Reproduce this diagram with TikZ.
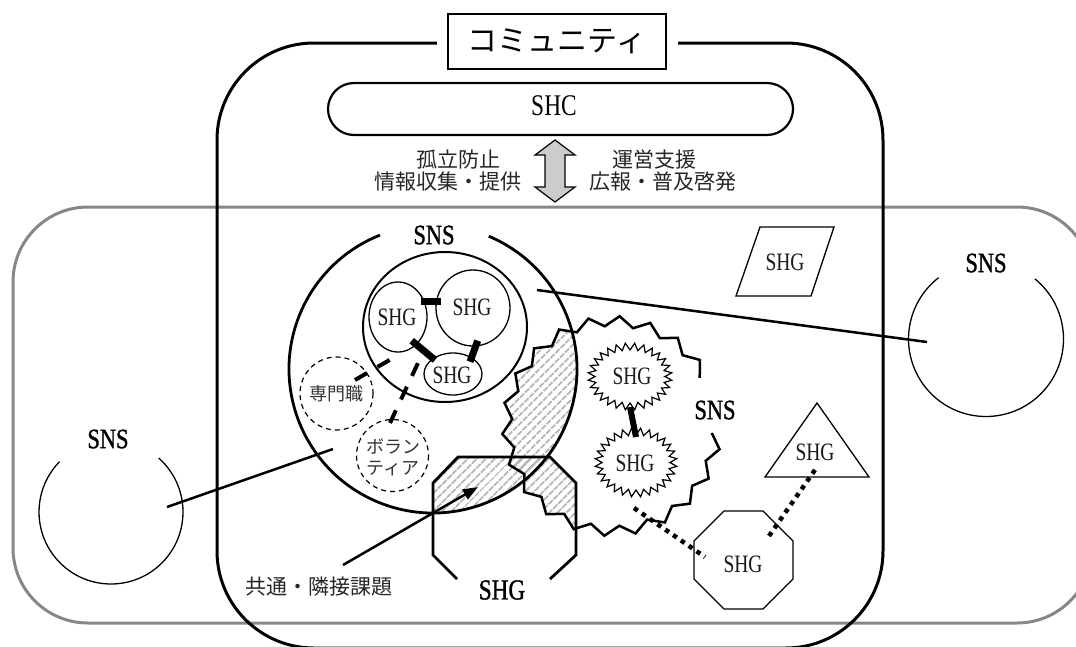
\documentclass[tikz,border=0pt]{standalone}
\usepackage{fontspec}
\newfontfamily\jpf{Noto Sans CJK JP}
\newfontfamily\latf[FakeStretch=0.78]{Liberation Serif}
\newfontfamily\latbf[FakeStretch=0.8,FakeBold=1.2]{Liberation Serif}
\usetikzlibrary{patterns.meta,arrows.meta}
\begin{document}
\begin{tikzpicture}[x=1pt,y=-1pt,
  thickln/.style={line width=2.8pt},
  thinln/.style={line width=1.3pt},
  hatch/.style={pattern={Lines[angle=45,distance=6.5pt,line width=2pt]},pattern color=black!30},
  shg/.style={font=\latf\fontsize{25}{25}\selectfont, text=black!90, inner sep=0pt},
  snsl/.style={font=\latbf\fontsize{28}{28}\selectfont, inner sep=0pt},
  jtxt/.style={font=\jpf\fontsize{21}{25}\selectfont, text=black!85, inner sep=0pt},
  jsmall/.style={font=\jpf\fontsize{18}{21}\selectfont, text=black!80, inner sep=0pt, align=center},
  bar/.style={line width=7pt},
  dashln/.style={line width=4pt, dash pattern=on 14pt off 12pt},
  dotln/.style={line width=4.5pt, dash pattern=on 4.5pt off 5pt},
  dcirc/.style={line width=1.2pt, dash pattern=on 5pt off 4pt},
]
\useasboundingbox (0,0) rectangle (1076,646);
\clip (0,0) rectangle (1076,646);

% outer gray frame
\draw[line width=3pt, draw=black!47, rounded corners=75pt] (13,207) rectangle (1092,623);
% community frame
\draw[line width=3pt, rounded corners=97pt] (217,43) rectangle (883,648);
\fill[white] (437,36) rectangle (678,50);
\node[draw, line width=2pt, fill=white, minimum width=218pt, minimum height=55pt, inner sep=0pt,
      font=\jpf\fontsize{30}{30}\selectfont] (title) at (557,41.5) {コミュニティ};

% SHC
\node[draw, line width=2.2pt, rounded corners=26pt, minimum width=465pt, minimum height=52pt, inner sep=0pt] (shc) at (560.5,109) {};
\node[font=\latf\fontsize{30}{30}\selectfont, inner sep=0pt] (shct) at (554,106) {SHC};

% double arrow
\coordinate (da) at (555,171);
\draw[line width=1.2pt, fill=black!20] (da) ++(0,-31) -- ++(20,15) -- ++(-10,0) -- ++(0,32) -- ++(10,0)
   -- ++(-20,15) -- ++(-20,-15) -- ++(10,0) -- ++(0,-32) -- ++(-10,0) -- cycle;
\node[jtxt] (t1) at (458,160) {孤立防止};
\node[jtxt] (t2) at (448,182) {情報収集・提供};
\node[jtxt] (t3) at (654,160) {運営支援};
\node[jtxt] (t4) at (663,182) {広報・普及啓発};

% hatched overlaps
\begin{scope}
  \clip (433,369) circle[radius=144];
  \path[hatch] plot[variable=\k,domain=0:44,samples=45]
    ({612+(105+5*(2*mod(round(\k),2)-1))*cos(4+\k*8.181818)},{426+(105+5*(2*mod(round(\k),2)-1))*sin(4+\k*8.181818)}) -- cycle;
\end{scope}
\begin{scope}
  \clip (458,457) -- (550,457) -- (576,483) -- (576,555) -- (550,581) -- (458,581) -- (433,555) -- (433,483) -- cycle;
  \path[hatch] (433,369) circle[radius=144];
  \path[hatch] plot[variable=\k,domain=0:44,samples=45]
    ({612+(105+5*(2*mod(round(\k),2)-1))*cos(4+\k*8.181818)},{426+(105+5*(2*mod(round(\k),2)-1))*sin(4+\k*8.181818)}) -- cycle;
\end{scope}

% big SNS circle
\coordinate (bigc) at (433,369);
\draw[thickln] ([shift={(292.8:144)}]bigc) arc[start angle=292.8,end angle=608.4,radius=144];
\node[snsl] (sns1) at (434,235) {SNS};
% inner circle and SHGs
\draw[line width=2pt] (445,327) ellipse[x radius=82, y radius=75];
\draw[thinln] (398,317) ellipse[x radius=29, y radius=35];
\draw[thinln] (473,308) ellipse[x radius=37, y radius=38];
\draw[thinln] (453,374) ellipse[x radius=29, y radius=21];
\node[shg] (g1) at (397,317) {SHG};
\node[shg] (g2) at (472,307) {SHG};
\node[shg] (g3) at (452,375) {SHG};
\coordinate (b1a) at (421,301); \coordinate (b1b) at (441,301);
\coordinate (b2a) at (411.7,340.7); \coordinate (b2b) at (435,360);
\coordinate (b3a) at (477.7,340.7); \coordinate (b3b) at (470,361.7);
\draw[bar] (b1a) -- (b1b);
\draw[bar] (b2a) -- (b2b);
\draw[bar] (b3a) -- (b3b);
% professionals / volunteers
\draw[dcirc] (336.5,393.5) circle[radius=36.5];
\node[jsmall] (pro) at (336.5,394) {専門職};
\draw[dcirc] (392.5,455.5) circle[radius=36];
\node[jsmall] (vol) at (393,457) {ボラン\\ティア};
\coordinate (d1a) at (355,380); \coordinate (d1b) at (393,358);
\coordinate (d2a) at (390,423); \coordinate (d2b) at (418,363);
\draw[dashln] (d1a) -- (d1b);
\draw[dashln] (d2a) -- (d2b);

% zigzag SNS
\draw[line width=2.5pt] plot[variable=\k,domain=0:40,samples=41]
    ({612+(105+5*(2*mod(round(\k),2)-1))*cos(4+\k*8.181818)},{426+(105+5*(2*mod(round(\k),2)-1))*sin(4+\k*8.181818)});
\node[snsl] (sns2) at (715,410) {SNS};
\draw[line width=1.2pt] plot[variable=\k,domain=0:56,samples=57]
    ({630+(38.5+3.5*(2*mod(round(\k),2)-1))*cos(\k*6.428571)},{376.5+(30+3.5*(2*mod(round(\k),2)-1))*sin(\k*6.428571)}) -- cycle;
\draw[line width=1.2pt] plot[variable=\k,domain=0:56,samples=57]
    ({636+(37.5+3.5*(2*mod(round(\k),2)-1))*cos(\k*6.428571)},{462.5+(31+3.5*(2*mod(round(\k),2)-1))*sin(\k*6.428571)}) -- cycle;
\node[shg] (z1) at (632,376) {SHG};
\node[shg] (z2) at (635,463) {SHG};
\coordinate (zb1) at (630,407); \coordinate (zb2) at (636,437);
\draw[line width=6pt] (zb1) -- (zb2);

% bottom octagon SHG
\draw[thickln] (457,579) -- (433,555) -- (433,483) -- (458,457) -- (550,457) -- (576,483) -- (576,555) -- (550,579);
\node[font=\latbf\fontsize{29}{29}\selectfont, inner sep=0pt] (shgb) at (502,590) {SHG};

% links to outer SNS circles
\coordinate (cr1) at (537,290); \coordinate (cr2) at (927,342);
\coordinate (cl1) at (333,449); \coordinate (cl2) at (167,507);
\draw[line width=2.5pt] (cr1) -- (cr2);
\draw[line width=2.5pt] (cl1) -- (cl2);
\coordinate (rs) at (986,339);
\draw[thinln] ([shift={(309.2:77.5)}]rs) arc[start angle=309.2,end angle=592.3,radius=77.5];
\node[snsl] (sns3) at (986,263) {SNS};
\coordinate (ls) at (111,512);
\draw[thinln] ([shift={(311.6:72)}]ls) arc[start angle=311.6,end angle=584.4,radius=72];
\node[snsl] (sns4) at (108,439) {SNS};

% other SHGs
\draw[thinln] (760,227) -- (834,227) -- (811,296) -- (736,296) -- cycle;
\node[shg] (pg) at (785,262) {SHG};
\draw[thinln] (817,403) -- (869,477) -- (765,477) -- cycle;
\node[shg] (tri) at (815,452) {SHG};
\draw[thinln] (724,511) -- (763,511) -- (793,541) -- (793,579) -- (763,609) -- (724,609) -- (694,579) -- (694,541) -- cycle;
\node[shg] (oct) at (743,564) {SHG};
\coordinate (p1) at (634,508); \coordinate (p2) at (705,557);
\coordinate (p3) at (769,536); \coordinate (p4) at (817,467);
\draw[dotln] (p1) -- (p2);
\draw[dotln] (p3) -- (p4);

% common issue arrow
\node[jtxt] (cmn) at (319,587) {共通・隣接課題};
\coordinate (a1) at (343,565); \coordinate (a2) at (478,487);
\draw[line width=2.5pt, -{Triangle[length=15pt,width=11pt]}] (a1) -- (a2);
\end{tikzpicture}
\end{document}
